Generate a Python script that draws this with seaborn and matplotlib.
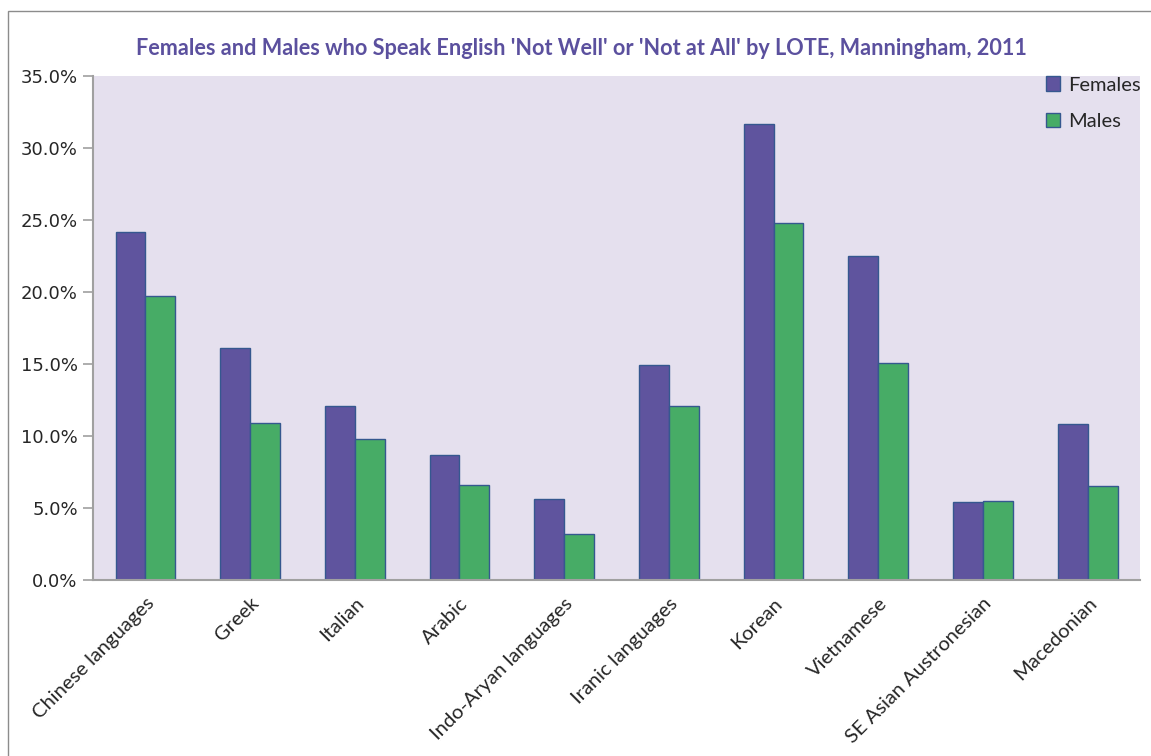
"""Females and males who speak English 'not well' or 'not at all' by LOTE"""
import matplotlib
matplotlib.use("Agg")
import matplotlib.pyplot as plt
import seaborn as sns
import pandas as pd
from matplotlib.ticker import PercentFormatter
from matplotlib.patches import Rectangle

languages = ["Chinese languages", "Greek", "Italian", "Arabic", "Indo-Aryan languages",
             "Iranic languages", "Korean", "Vietnamese", "SE Asian Austronesian", "Macedonian"]
females = [24.2, 16.1, 12.1, 8.7, 5.6, 14.9, 31.7, 22.5, 5.4, 10.8]
males = [19.7, 10.9, 9.8, 6.6, 3.2, 12.1, 24.8, 15.1, 5.5, 6.5]
y_ticks = [0, 5, 10, 15, 20, 25, 30, 35]

df = pd.DataFrame({
    "language": languages * 2,
    "share": females + males,
    "sex": ["Females"] * len(languages) + ["Males"] * len(languages),
})

sns.set_style("white")
plt.rcParams["font.family"] = ["Lato", "DejaVu Sans"]

fig = plt.figure(figsize=(11.51, 7.56), dpi=100)
ax = fig.add_axes([0.0808, 0.2328, 0.9097, 0.6667])
ax.set_facecolor("#E5E0EE")

sns.barplot(data=df, x="language", y="share", hue="sex",
            palette={"Females": "#5F549E", "Males": "#47AC66"},
            width=0.57, gap=0, edgecolor="#35588F", linewidth=1.0,
            saturation=1, ax=ax)

ax.set_ylim(0, 35)
ax.set_xlim(-0.5, len(languages) - 0.5)
ax.set_yticks(y_ticks)
ax.yaxis.set_major_formatter(PercentFormatter(decimals=1))
ax.set_xlabel("")
ax.set_ylabel("")
for lab in ax.get_yticklabels():
    lab.set_fontfamily("DejaVu Sans")
ax.tick_params(axis="y", labelsize=13, length=7, width=1.2, color="#A0A0A0",
               left=True, pad=4)
ax.tick_params(axis="x", bottom=False, labelsize=14.5, pad=7)
plt.setp(ax.get_xticklabels(), rotation=45, ha="right", rotation_mode="anchor")

for side in ["top", "right"]:
    ax.spines[side].set_visible(False)
for side in ["left", "bottom"]:
    ax.spines[side].set_color("#A0A0A0")
    ax.spines[side].set_linewidth(1.5)

leg = ax.legend(loc="upper left", bbox_to_anchor=(0.893, 1.035), frameon=False,
                fontsize=14.5, handlelength=0.7, handleheight=0.7,
                handletextpad=0.4, labelspacing=0.95)
for h in leg.legend_handles:
    h.set_edgecolor("#35588F")

fig.text(0.505, 0.936, "Females and Males who Speak English 'Not Well' or 'Not at All' by LOTE, Manningham, 2011",
         ha="center", va="center", fontsize=15.6, fontweight="bold", color="#5B509E")

# outer chart border
fig.patches.append(Rectangle((0.007, -0.01), 1.0, 0.995, transform=fig.transFigure,
                             fill=False, edgecolor="#8C8C8C", linewidth=1.0))

fig.savefig("out.png", dpi=100)
